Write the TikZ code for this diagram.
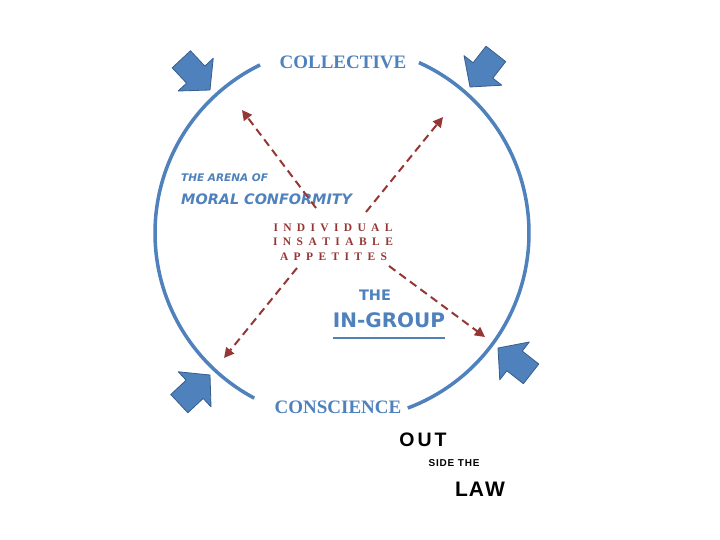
\documentclass[tikz,border=0pt]{standalone}
\usepackage{fontspec}
\setmainfont{Liberation Serif}
\newfontfamily\comicf{DejaVu Sans}
\newfontfamily\arialf{Liberation Sans}
\usetikzlibrary{arrows.meta}
\definecolor{ringblue}{HTML}{4F81BD}
\definecolor{arrowedge}{HTML}{385D8A}
\definecolor{darkred}{HTML}{953735}
\tikzset{
  ring/.style={draw=ringblue,line width=3.5pt},
  fatarrow/.style={fill=ringblue,draw=arrowedge,line width=0.8pt,line join=round},
  redarrow/.style={draw=darkred,line width=2pt,dash pattern=on 8pt off 5pt,
    -{Triangle[length=10pt,width=10pt]}},
  lbl/.style={inner sep=0pt},
  serifbig/.style={lbl,text=ringblue,font=\fontsize{19}{21}\selectfont\bfseries},
  appet/.style={lbl,text=darkred,font=\fontsize{11.5}{12}\selectfont\bfseries},
  comicit/.style={lbl,text=ringblue,font=\comicf\bfseries\itshape},
  comic/.style={lbl,text=ringblue,font=\comicf\bfseries},
  lawtext/.style={lbl,text=black,font=\arialf\bfseries},
  underl/.style={draw=ringblue,line width=1.6pt},
}
\newcommand\fatarr[2]{\begin{scope}[shift={#1},rotate=#2]
  \draw[fatarrow] (0,0) -- (-21,24) -- (-21,12.5) -- (-42,12.5) -- (-42,-12.5) -- (-21,-12.5) -- (-21,-24) -- cycle;
\end{scope}}
\begin{document}
\begin{tikzpicture}[x=1pt,y=-1pt]
\fill[white] (0,0) rectangle (720,540);
\useasboundingbox (0,0) rectangle (720,540);
% ring (two arcs, gaps for the labels)
\draw[ring] plot[domain=-65.7:69.4,samples=80,smooth] ({342+187*cos(\x)},{233+187*sin(\x)});
\draw[ring] plot[domain=118:244,samples=80,smooth] ({342+187*cos(\x)},{233+187*sin(\x)});
% block arrows
\fatarr{(210,90)}{-47}
\fatarr{(470,87)}{-128}
\fatarr{(210,375)}{43}
\fatarr{(498,348)}{142}
% labels
\node[serifbig] (collective) at (343,62.5) {COLLECTIVE};
\node[serifbig] (conscience) at (338,407) {CONSCIENCE};
\node[comicit,font=\comicf\bfseries\itshape\fontsize{10.5}{12}\selectfont,anchor=west] (arena) at (181,178) {THE ARENA OF};
\node[comicit,font=\comicf\bfseries\itshape\fontsize{14.4}{16}\selectfont,anchor=west] (moral) at (181,199) {MORAL CONFORMITY};
\node[appet] (ind) at (333,228) {\makebox[119pt]{I\hfill N\hfill D\hfill I\hfill V\hfill I\hfill D\hfill U\hfill A\hfill L}};
\node[appet] (ins) at (333,241.5) {\makebox[120pt]{I\hfill N\hfill S\hfill A\hfill T\hfill I\hfill A\hfill B\hfill L\hfill E}};
\node[appet] (app) at (333.5,256.5) {\makebox[107pt]{A\hfill P\hfill P\hfill E\hfill T\hfill I\hfill T\hfill E\hfill S}};
\node[comic,font=\comicf\bfseries\fontsize{14.5}{16}\selectfont] (the) at (375,295) {THE};
\node[comic,font=\comicf\bfseries\fontsize{20}{22}\selectfont] (ingroup) at (389,320.5) {IN-GROUP};
\draw[underl] ([yshift=-10pt]ingroup.base west) -- ([yshift=-10pt]ingroup.base east);
\node[lawtext,font=\arialf\bfseries\fontsize{19.5}{21}\selectfont] (out) at (423,440) {O\kern3pt U\kern3pt T};
\node[lawtext,font=\arialf\bfseries\fontsize{10}{12}\selectfont] (side) at (454,463) {S\kern0.8pt I\kern0.8pt D\kern0.8pt E\kern0.8pt\ T\kern0.8pt H\kern0.8pt E};
\node[lawtext,font=\arialf\bfseries\fontsize{21}{23}\selectfont] (law) at (480,489) {L\kern1pt A\kern1pt W};
% dashed arrows from the centre
\coordinate (s1) at (316,208); \coordinate (e1) at (242,110);
\coordinate (s2) at (366,212); \coordinate (e2) at (443,117);
\coordinate (s3) at (389,266); \coordinate (e3) at (485,337);
\coordinate (s4) at (297,268); \coordinate (e4) at (224,358);
\draw[redarrow] (s1) -- (e1);
\draw[redarrow] (s2) -- (e2);
\draw[redarrow] (s3) -- (e3);
\draw[redarrow] (s4) -- (e4);
\end{tikzpicture}
\end{document}
